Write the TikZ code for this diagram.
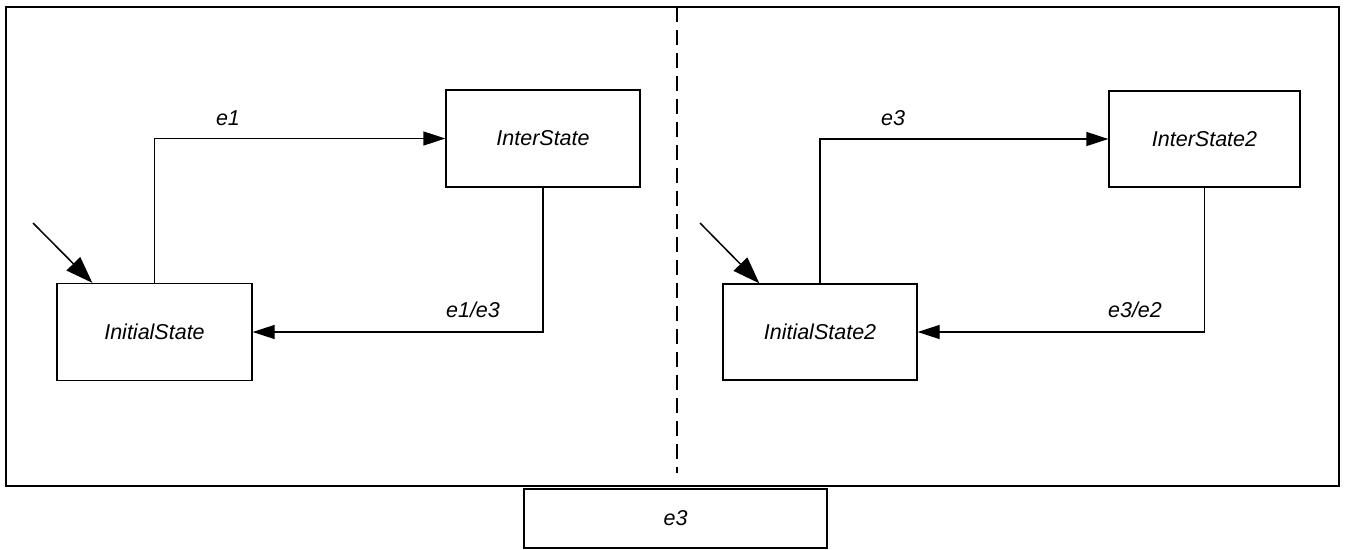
\documentclass[tikz,border=0pt]{standalone}
\usepackage{fontspec}
\setmainfont{Liberation Sans}
\usetikzlibrary{arrows.meta,calc}
\begin{document}
\begin{tikzpicture}[x=1pt,y=-1pt,
  statebox/.style={draw,line width=1.3pt,rectangle,inner sep=0pt,font=\fontsize{21.5}{24}\selectfont\itshape},
  lbl/.style={font=\fontsize{21.5}{24}\selectfont\itshape,inner sep=0pt},
  trans/.style={line width=1.3pt,-{Triangle[length=22pt,width=14pt]}},
  initarrow/.style={line width=1.5pt,-{Triangle[length=27pt,width=19pt]}}]
\useasboundingbox (0,0) rectangle (1346,549);
% frame
\draw[line width=1.3pt] (6,7) rectangle (1339,486);
\draw[line width=1.3pt,dash pattern=on 15pt off 8pt] (677,7) -- (677,473);
% left machine
\node[statebox,minimum width=195pt,minimum height=97pt] (init) at (154.5,332) {InitialState};
\node[statebox,minimum width=194pt,minimum height=97pt] (inter) at (543,138.5) {InterState};
\coordinate (s1) at (33,223);
\draw[initarrow] (s1) -- ($(init.north west)+(36,0)$);
\draw[trans] (init.north) |- (inter.west);
\draw[trans] (inter.south) |- (init.east);
\node[lbl] (l1) at (228,118) {e1};
\node[lbl] (l2) at (473,310) {e1/e3};
% right machine
\node[statebox,minimum width=194pt,minimum height=96pt] (init2) at (820,332) {InitialState2};
\node[statebox,minimum width=191pt,minimum height=96pt] (inter2) at (1204.5,139) {InterState2};
\coordinate (s2) at (700,223);
\draw[initarrow] (s2) -- ($(init2.north west)+(37,0)$);
\draw[trans] (init2.north) |- (inter2.west);
\draw[trans] (inter2.south) |- (init2.east);
\node[lbl] (l3) at (893,118) {e3};
\node[lbl] (l4) at (1135,310) {e3/e2};
% event box
\node[statebox,minimum width=303pt,minimum height=59pt] (ev) at (675.5,518.5) {e3};
\end{tikzpicture}
\end{document}
